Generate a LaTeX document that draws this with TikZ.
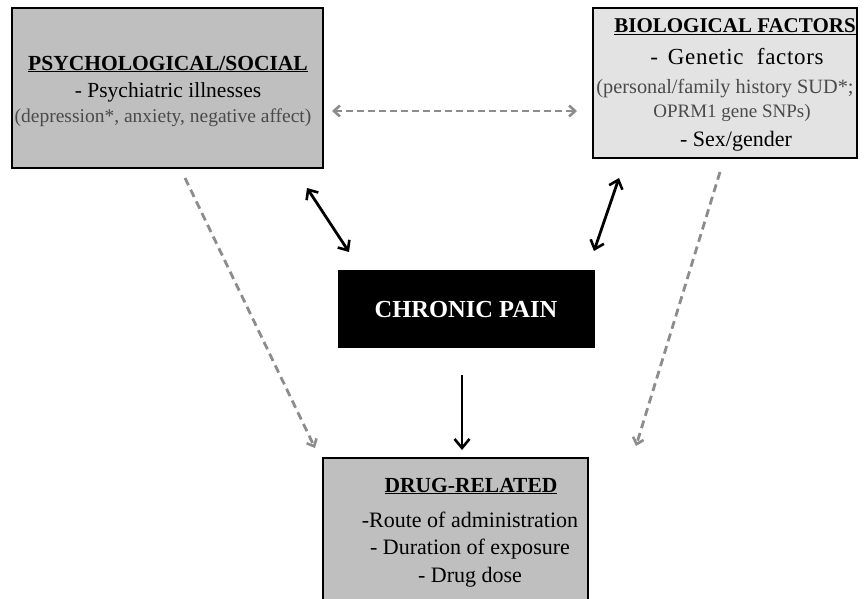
\documentclass[tikz,border=0pt]{standalone}
\usepackage{fontspec}
\setmainfont{Liberation Serif}
\usetikzlibrary{arrows.meta}
\definecolor{boxgray}{HTML}{BFBFBF}
\definecolor{lightgray2}{HTML}{E3E3E3}
\definecolor{dashgray}{HTML}{8C8C8C}
\definecolor{subgray}{HTML}{4A4A4A}
\tikzset{
  box/.style={draw=black, line width=2.4pt, inner sep=0pt},
  ttl/.style={font=\fontsize{21.5}{23}\selectfont\bfseries, inner sep=0pt},
  mainline/.style={font=\fontsize{21.5}{23}\selectfont, inner sep=0pt},
  subline/.style={font=\fontsize{19.5}{21}\selectfont, text=subgray, inner sep=0pt},
  solidarr/.style={line width=2.8pt, black, arrows={Straight Barb[length=8pt,width=14pt,line width=2.6pt]-Straight Barb[length=8pt,width=14pt,line width=2.6pt]}},
  onearr/.style={line width=2.8pt, black, -{Straight Barb[length=9pt,width=15pt,line width=2.6pt]}},
  dasharr/.style={line width=2.8pt, dashgray, dash pattern=on 8pt off 5pt, -{Straight Barb[length=6pt,width=11pt,line width=2.6pt]}},
  dashboth/.style={line width=2.8pt, dashgray, dash pattern=on 7pt off 4pt, {Straight Barb[length=6pt,width=11pt,line width=2.6pt]}-{Straight Barb[length=6pt,width=11pt,line width=2.6pt]}},
}
\begin{document}
\begin{tikzpicture}[x=1pt,y=-1pt]
\useasboundingbox[fill=white] (0,0) rectangle (864,599);
% boxes
\node[box, fill=boxgray, minimum width=311pt, minimum height=160pt] (psy) at (167.5,88) {};
\node[box, fill=lightgray2, minimum width=264pt, minimum height=150pt] (bio) at (725,83) {};
\node[box, fill=black, draw=black, line width=1pt, minimum width=256pt, minimum height=77pt] (cp) at (466,308.5) {};
\node[box, fill=boxgray, minimum width=265pt, minimum height=142pt] (drug) at (455.5,529) {};
% texts
\node[ttl] (psyt) at (168,64) {\underline{PSYCHOLOGICAL/SOCIAL}};
\node[mainline] (psy1) at (168,92) {- Psychiatric illnesses};
\node[subline] (psy2) at (163,118) {(depression*, anxiety, negative affect)};
\node[font=\fontsize{21}{23}\selectfont\bfseries, inner sep=0pt] (biot) at (735,27) {\underline{BIOLOGICAL FACTORS}};
\node[font=\fontsize{23}{25}\selectfont\addfontfeature{LetterSpace=3}, inner sep=0pt] (bio1) at (737,57) {-\hspace{0.15em} Genetic\hspace{0.3em} factors};
\node[font=\fontsize{20.3}{22}\selectfont, text=subgray, inner sep=0pt] (bio2) at (725,89) {(personal/family history SUD*;};
\node[font=\fontsize{19}{21}\selectfont, text=subgray, inner sep=0pt] (bio3) at (732,113) {OPRM1 gene SNPs)};
\node[font=\fontsize{22}{24}\selectfont, inner sep=0pt] (bio4) at (736,141) {- Sex/gender};
\node[font=\fontsize{24.5}{26}\selectfont\bfseries, text=white, inner sep=0pt] (cpt) at (466,310) {CHRONIC PAIN};
\node[ttl] (drugt) at (471,486) {\underline{DRUG-RELATED}};
\node[font=\fontsize{22}{24}\selectfont, inner sep=0pt] (drug1) at (470,520) {-Route of administration};
\node[font=\fontsize{22}{24}\selectfont, inner sep=0pt] (drug2) at (470,549) {- Duration of exposure};
\node[font=\fontsize{22}{24}\selectfont, inner sep=0pt] (drug3) at (470,577) {- Drug dose};
% connector end points
\coordinate (hA) at (332,111);
\coordinate (hB) at (577,111);
\coordinate (psA) at (307,188);
\coordinate (psB) at (349,252);
\coordinate (biA) at (619,178);
\coordinate (biB) at (594,251);
\coordinate (cpA) at (462,375);
\coordinate (cpB) at (462,450);
\coordinate (lA) at (185,178);
\coordinate (lB) at (315,448);
\coordinate (rA) at (720,172);
\coordinate (rB) at (636,446);
% connectors
\draw[dashboth] (hA) -- (hB);
\draw[solidarr] (psA) -- (psB);
\draw[solidarr] (biA) -- (biB);
\draw[onearr] (cpA) -- (cpB);
\draw[dasharr] (lA) -- (lB);
\draw[dasharr] (rA) -- (rB);
\end{tikzpicture}
\end{document}
